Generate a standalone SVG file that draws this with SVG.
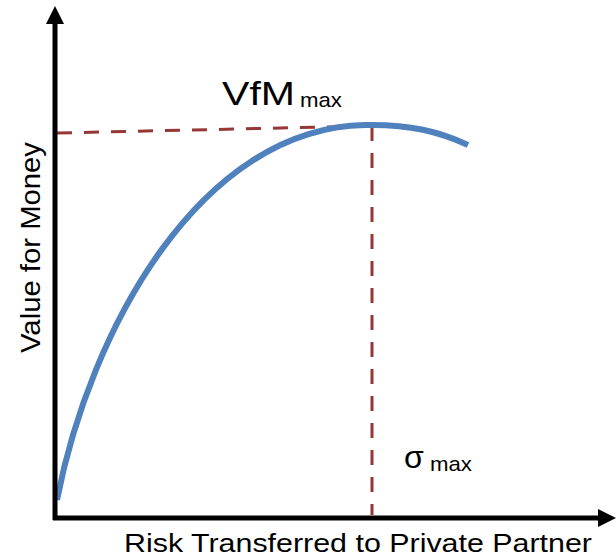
<svg xmlns="http://www.w3.org/2000/svg" width="616" height="560" viewBox="0 0 616 560">
  <style>
    .axis { stroke: #000; stroke-width: 5; fill: none; }
    .guide { stroke: #953735; stroke-width: 3; stroke-dasharray: 15 12; fill: none; }
    .curve { stroke: #4F81BD; stroke-width: 6; fill: none; }
    .lbl { font-family: "Liberation Sans", "Open Sans", sans-serif; fill: #000; }
  </style>
  <rect width="616" height="560" fill="#fff"/>
  <g id="connectors">
    <!-- guide lines to the optimum -->
    <path class="guide" d="M57,133 L372,126"/>
    <path class="guide" d="M372,126 L372,515"/>
    <!-- value-for-money curve -->
    <path class="curve" d="M57,500 C90,330 200,128 365,125 C410,124 440,132 468,145"/>
    <!-- axes -->
    <path class="axis" d="M55,520 L55,22"/>
    <polygon points="46,24 55,6 64,24" fill="#000"/>
    <path class="axis" d="M53,518 L600,518"/>
    <polygon points="598,509 616,518 598,527" fill="#000"/>
  </g>
  <g id="vfm-label">
    <text class="lbl" x="222" y="105" font-size="33" textLength="73" lengthAdjust="spacingAndGlyphs">VfM</text>
    <text class="lbl" x="300" y="107" font-size="21" textLength="42" lengthAdjust="spacingAndGlyphs">max</text>
  </g>
  <g id="sigma-label">
    <text class="lbl" x="404" y="468" font-size="32">σ</text>
    <text class="lbl" x="430" y="471" font-size="21" textLength="42" lengthAdjust="spacingAndGlyphs">max</text>
  </g>
  <g id="x-label">
    <text class="lbl" x="124" y="552" font-size="26" textLength="468" lengthAdjust="spacingAndGlyphs">Risk Transferred to Private Partner</text>
  </g>
  <g id="y-label">
    <text class="lbl" transform="translate(40,353) rotate(-90)" font-size="27" textLength="211" lengthAdjust="spacingAndGlyphs">Value for Money</text>
  </g>
</svg>
